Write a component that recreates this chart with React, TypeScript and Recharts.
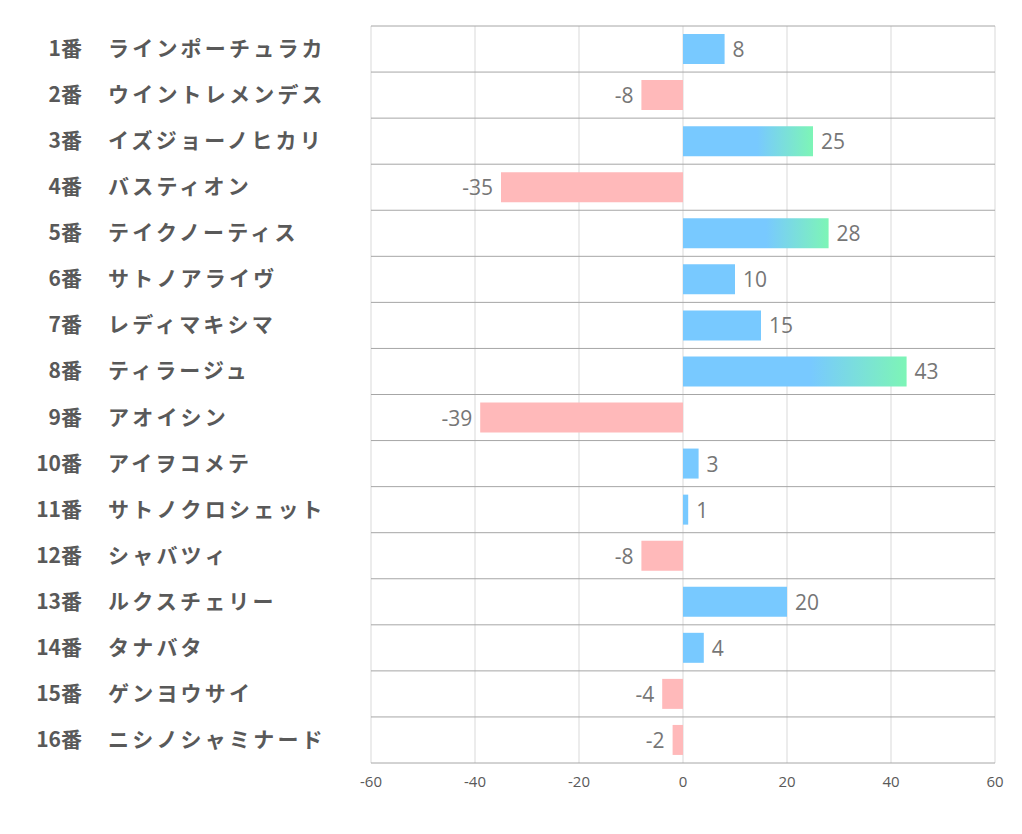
import { Bar, BarChart, CartesianGrid, Cell, LabelList, XAxis, YAxis } from "recharts";

const NUMBERS = ["1番", "2番", "3番", "4番", "5番", "6番", "7番", "8番", "9番", "10番", "11番", "12番", "13番", "14番", "15番", "16番"];
const HORSES = [
  "ラインポーチュラカ",
  "ウイントレメンデス",
  "イズジョーノヒカリ",
  "バスティオン",
  "テイクノーティス",
  "サトノアライヴ",
  "レディマキシマ",
  "ティラージュ",
  "アオイシン",
  "アイヲコメテ",
  "サトノクロシェット",
  "シャバツィ",
  "ルクスチェリー",
  "タナバタ",
  "ゲンヨウサイ",
  "ニシノシャミナード",
];
const SCORES = [8, -8, 25, -35, 28, 10, 15, 43, -39, 3, 1, -8, 20, 4, -4, -2];
const X_TICKS = [-60, -40, -20, 0, 20, 40, 60];

const COLORS = {
  blue: "#78C9FF",
  green: "#7DF5B6",
  pink: "#FFB9BA",
  text: "#595959",
  value: "#767676",
  gridV: "#D9D9D9",
  gridH: "#A6A6A6",
};

const rows = HORSES.map((name, i) => ({ key: NUMBERS[i], name, score: SCORES[i] }));

function barFill(v: number) {
  if (v > 20) return "url(#posGrad)";
  return v >= 0 ? COLORS.blue : COLORS.pink;
}

function HorseTick(props: any) {
  const { y, payload } = props;
  const row = rows[payload.index] ?? rows.find((r) => r.key === payload.value);
  return (
    <g>
      <text
        x={82}
        y={y}
        dy={7}
        textAnchor="end"
        fill={COLORS.text}
        fontSize={21}
        fontWeight={700}
        fontFamily="'Noto Sans CJK JP', sans-serif"
      >
        {payload.value}
      </text>
      <text
        x={108}
        y={y}
        dy={7}
        textAnchor="start"
        fill={COLORS.text}
        fontSize={21}
        fontWeight={700}
        letterSpacing={3.2}
        fontFamily="'Noto Sans CJK JP', sans-serif"
      >
        {row ? row.name : ""}
      </text>
    </g>
  );
}

function ScoreTick(props: any) {
  const { x, y, payload } = props;
  return (
    <text
      x={x}
      y={y}
      dy={12}
      textAnchor="middle"
      fill={COLORS.text}
      fontSize={15}
      fontFamily="'Open Sans', sans-serif"
    >
      {payload.value}
    </text>
  );
}

function ValueLabel(props: any) {
  const { x, y, width, height, value } = props;
  const left = Math.min(x, x + width);
  const right = Math.max(x, x + width);
  const pos = value >= 0;
  return (
    <text
      x={pos ? right + 8 : left - 8}
      y={y + height / 2}
      dy={8}
      textAnchor={pos ? "start" : "end"}
      fill={COLORS.value}
      fontSize={21}
      fontFamily="'Open Sans', sans-serif"
    >
      {value}
    </text>
  );
}

export default function App() {
  return (
    <div style={{ position: "absolute", left: 0, top: 0, width: 1022, height: 834, background: "#fff" }}>
      <BarChart
        width={1022}
        height={834}
        data={rows}
        layout="vertical"
        margin={{ top: 26, right: 27, bottom: 0, left: 0 }}
        barSize={30}
      >
        <defs>
          <linearGradient id="posGrad" x1="0" y1="0" x2="1" y2="0">
            <stop offset="0" stopColor={COLORS.blue} />
            <stop offset="0.57" stopColor={COLORS.blue} />
            <stop offset="1" stopColor={COLORS.green} />
          </linearGradient>
        </defs>
        <CartesianGrid horizontal={false} stroke={COLORS.gridV} strokeWidth={1} />
        <CartesianGrid
          vertical={false}
          stroke={COLORS.gridH}
          strokeWidth={1}
          horizontalCoordinatesGenerator={({ offset }: any) =>
            Array.from({ length: rows.length + 1 }, (_, i) => offset.top + (i * offset.height) / rows.length)
          }
        />
        <XAxis
          type="number"
          domain={[-60, 60]}
          ticks={X_TICKS}
          axisLine={false}
          tickLine={false}
          height={71}
          tickMargin={6}
          tick={<ScoreTick />}
        />
        <YAxis
          type="category"
          dataKey="key"
          width={371}
          axisLine={false}
          tickLine={false}
          interval={0}
          tick={<HorseTick />}
        />
        <Bar dataKey="score" isAnimationActive={false}>
          {rows.map((r) => (
            <Cell key={r.key} fill={barFill(r.score)} />
          ))}
          <LabelList dataKey="score" content={<ValueLabel />} />
        </Bar>
      </BarChart>
    </div>
  );
}
